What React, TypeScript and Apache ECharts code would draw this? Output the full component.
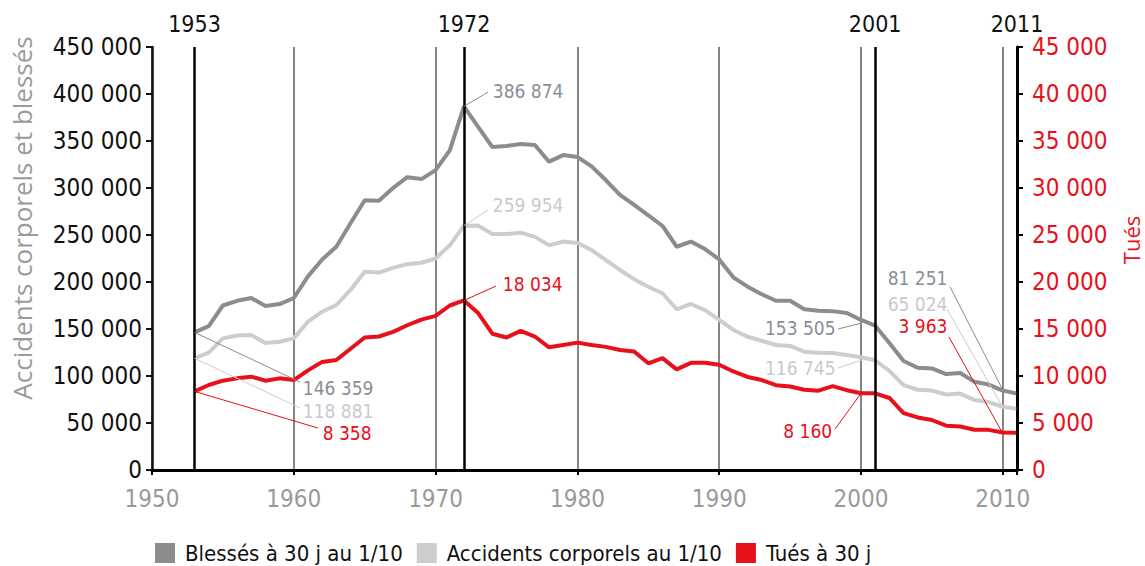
import React, { useEffect, useRef } from "react";
import * as echarts from "echarts";

const years: number[] = [];
for (let y = 1953; y <= 2011; y++) years.push(y);

const blesses = [
  146359, 153000, 175000, 180000, 183000, 174500, 176500, 183000, 206000, 224000,
  237500, 262500, 287000, 286500, 300000, 311500, 309500, 319000, 340000, 386874,
  365000, 343600, 344700, 346800, 345700, 328000, 335000, 333000, 323000, 308500,
  292600, 282000, 271000, 259600, 237500, 243000, 235000, 224000, 205000, 195000,
  187000, 180000, 180000, 171000, 169500, 169000, 167000, 159600, 153505, 135000,
  116000, 108700, 108100, 102100, 103200, 93800, 90900, 84500, 81251,
];

const accidents = [
  118881, 124800, 140000, 143000, 143600, 135000, 136500, 140000, 157800, 168400,
  175500, 191500, 211000, 210000, 215000, 219000, 220500, 225000, 239000, 259954,
  260000, 251000, 251000, 252500, 248000, 239000, 243000, 241500, 234000, 223400,
  212800, 203000, 195000, 188000, 171000, 176600, 170000, 159600, 149000, 141800,
  137500, 133000, 132000, 125900, 124800, 124400, 122300, 120000, 116745, 105500,
  90200, 85400, 84500, 80300, 81300, 74500, 72300, 67300, 65024,
];

const tues = [
  8358, 9040, 9500, 9750, 9930, 9500, 9750, 9570, 10600, 11500,
  11700, 12900, 14100, 14200, 14700, 15400, 16000, 16400, 17500, 18034,
  16700, 14500, 14100, 14800, 14200, 13050, 13300, 13550, 13300, 13100,
  12770, 12600, 11350, 11900, 10700, 11400, 11400, 11200, 10480, 9900,
  9570, 9020, 8890, 8540, 8440, 8920, 8490, 8170, 8160, 7660,
  6060, 5590, 5320, 4710, 4620, 4280, 4270, 3990, 3963,
];

const keyYears = [1953, 1972, 2001, 2011];
const seriesNames = ["Blessés à 30 j au 1/10", "Accidents corporels au 1/10", "Tués à 30 j"];
const leftTicks = { min: 0, max: 450000, interval: 50000 };
const rightTicks = { min: 0, max: 45000, interval: 5000 };

// annotations: [text, point on line, leader end, label anchor, side]
const annBlesses: [string, number[], number[], number[], string][] = [
  ["146 359", [1953, 146359], [1960.44, 93600], [1960.6, 87200], "right"],
  ["386 874", [1972, 386874], [1973.7, 402000], [1974.0, 403000], "right"],
  ["153 505", [2000.07, 156400], [1998.38, 150000], [1998.24, 151500], "left"],
  ["81 251", [2010, 85100], [2006.28, 194700], [2006.13, 204200], "left"],
];
const annAccidents: [string, number[], number[], number[], string][] = [
  ["118 881", [1953, 118881], [1960.44, 66000], [1960.6, 62800], "right"],
  ["259 954", [1972, 259954], [1973.7, 276600], [1974.0, 281900], "right"],
  ["116 745", [2000.07, 117000], [1998.38, 108500], [1998.24, 108500], "left"],
  ["65 024", [2009.94, 68100], [2006.06, 171300], [2006.13, 176600], "left"],
];
const annTues: [string, number[], number[], number[], string][] = [
  ["8 358", [1953, 8358], [1961.7, 4468], [1962.0, 3900], "right"],
  ["18 034", [1972, 18034], [1974.26, 19574], [1974.7, 19787], "right"],
  ["8 160", [2000.07, 8298], [1998.17, 4362], [1998.0, 4149], "left"],
  ["3 963", [2009.94, 4042], [2006.2, 14149], [2006.13, 15319], "left"],
];

const FONT = '"Liberation Sans Narrow", "DejaVu Sans Condensed", "Liberation Sans", sans-serif';
const C_DARK = "#8c8c8e";
const C_LIGHT = "#cdcdcd";
const C_RED = "#e8101a";
const C_DARK_TXT = "#8a8e97";
const C_LIGHT_TXT = "#c7cad0";

function fmt(v: number) {
  return String(v).replace(/\B(?=(\d{3})+(?!\d))/g, " ");
}

function makeAnn(list: [string, number[], number[], number[], string][], lineColor: string, txtColor: string) {
  return {
    markLine: {
      silent: true,
      symbol: ["none", "none"],
      label: { show: false },
      lineStyle: { color: lineColor, width: 1, type: "solid" },
      data: list.map((a) => [{ coord: a[1] }, { coord: a[2] }]),
    },
    markPoint: {
      silent: true,
      symbol: "circle",
      symbolSize: 1,
      itemStyle: { color: "rgba(0,0,0,0)" },
      data: list.map((a) => ({
        coord: a[3],
        value: a[0],
        label: {
          show: true,
          formatter: a[0],
          position: a[4],
          distance: 0,
          color: txtColor,
          fontFamily: FONT,
          fontSize: 19,
        },
      })),
    },
  };
}

export default function App() {
  const ref = useRef<HTMLDivElement>(null);
  useEffect(() => {
    if (!ref.current) return;
    const chart = echarts.init(ref.current, null, { renderer: "svg" });
    const a1 = makeAnn(annBlesses, C_DARK, C_DARK_TXT);
    const a2 = makeAnn(annAccidents, C_LIGHT, C_LIGHT_TXT);
    const a3 = makeAnn(annTues, C_RED, C_RED);
    const vertLines = keyYears.map((y) => ({
      xAxis: y,
      lineStyle: { color: "#000", width: 2.5, type: "solid" },
      label: {
        show: true,
        position: "end",
        formatter: String(y),
        color: "#111",
        fontFamily: FONT,
        fontSize: 23,
        distance: 12,
      },
    }));
    const option: any = {
      animation: false,
      backgroundColor: "#fff",
      grid: { left: 152, right: 128, top: 47, bottom: 96, containLabel: false },
      legend: {
        data: seriesNames.map((n) => ({ name: n })),
        left: 150,
        top: 537,
        icon: "rect",
        itemWidth: 20,
        itemHeight: 20,
        itemGap: 14,
        textStyle: { color: "#111", fontFamily: FONT, fontSize: 22, padding: [0, 0, 0, 5] },
        selectedMode: false,
      },
      xAxis: [
        {
          type: "value",
          min: 1950,
          max: 2011,
          interval: 10,
          position: "bottom",
          axisLine: { lineStyle: { color: "#000", width: 3 } },
          axisTick: { show: true, length: 5, lineStyle: { color: "#000", width: 2 } },
          axisLabel: {
            color: "#9a9a9a",
            fontFamily: FONT,
            fontSize: 24,
            margin: 17,
            formatter: (v: number) => (v > 2010 ? "" : String(v)),
          },
          splitLine: { show: true, lineStyle: { color: "#858585", width: 2 } },
        },
        {
          type: "value",
          min: 1950,
          max: 2011,
          position: "top",
          axisLine: { show: true, lineStyle: { color: "#000", width: 3 } },
          axisTick: { show: false },
          axisLabel: { show: false },
          splitLine: { show: false },
        },
      ],
      yAxis: [
        {
          type: "value",
          ...leftTicks,
          position: "left",
          axisLine: { show: true, lineStyle: { color: "#111", width: 2.5 } },
          axisTick: { show: true, length: 6, lineStyle: { color: "#111", width: 2 } },
          axisLabel: {
            color: "#111",
            fontFamily: FONT,
            fontSize: 24,
            margin: 10,
            formatter: (v: number) => fmt(v),
          },
          splitLine: { show: false },
        },
        {
          type: "value",
          ...rightTicks,
          position: "right",
          axisLine: { show: true, lineStyle: { color: "#000", width: 3 } },
          axisTick: { show: true, length: 6, lineStyle: { color: "#000", width: 2 } },
          axisLabel: {
            color: C_RED,
            fontFamily: FONT,
            fontSize: 24,
            margin: 15,
            formatter: (v: number) => fmt(v),
          },
          splitLine: { show: false },
        },
      ],
      graphic: [
        {
          type: "text",
          x: 22,
          y: 218,
          rotation: Math.PI / 2,
          style: {
            text: "Accidents corporels et blessés",
            fill: "#9a9a9a",
            font: '26px "Open Sans", "DejaVu Sans", sans-serif',
            textAlign: "center",
            textVerticalAlign: "middle",
          },
        },
        {
          type: "text",
          x: 1131,
          y: 240,
          rotation: Math.PI / 2,
          style: {
            text: "Tués",
            fill: C_RED,
            font: '22px "Open Sans", "DejaVu Sans", sans-serif',
            textAlign: "center",
            textVerticalAlign: "middle",
          },
        },
      ],
      series: [
        {
          name: seriesNames[0],
          type: "line",
          xAxisIndex: 0,
          yAxisIndex: 0,
          symbol: "none",
          z: 3,
          lineStyle: { color: C_DARK, width: 4 },
          itemStyle: { color: C_DARK },
          data: years.map((y, i) => [y, blesses[i]]),
          markLine: {
            ...a1.markLine,
            data: [...vertLines, ...a1.markLine.data],
          },
          markPoint: a1.markPoint,
        },
        {
          name: seriesNames[1],
          type: "line",
          xAxisIndex: 0,
          yAxisIndex: 0,
          symbol: "none",
          z: 3,
          lineStyle: { color: C_LIGHT, width: 4 },
          itemStyle: { color: C_LIGHT },
          data: years.map((y, i) => [y, accidents[i]]),
          markLine: a2.markLine,
          markPoint: a2.markPoint,
        },
        {
          name: seriesNames[2],
          type: "line",
          xAxisIndex: 0,
          yAxisIndex: 1,
          symbol: "none",
          z: 3,
          lineStyle: { color: C_RED, width: 4 },
          itemStyle: { color: C_RED },
          data: years.map((y, i) => [y, tues[i]]),
          markLine: a3.markLine,
          markPoint: a3.markPoint,
        },
      ],
    };
    chart.setOption(option);
    return () => chart.dispose();
  }, []);
  return (
    <div
      ref={ref}
      style={{ position: "absolute", left: 0, top: 0, width: 1145, height: 566, background: "#fff" }}
    />
  );
}
